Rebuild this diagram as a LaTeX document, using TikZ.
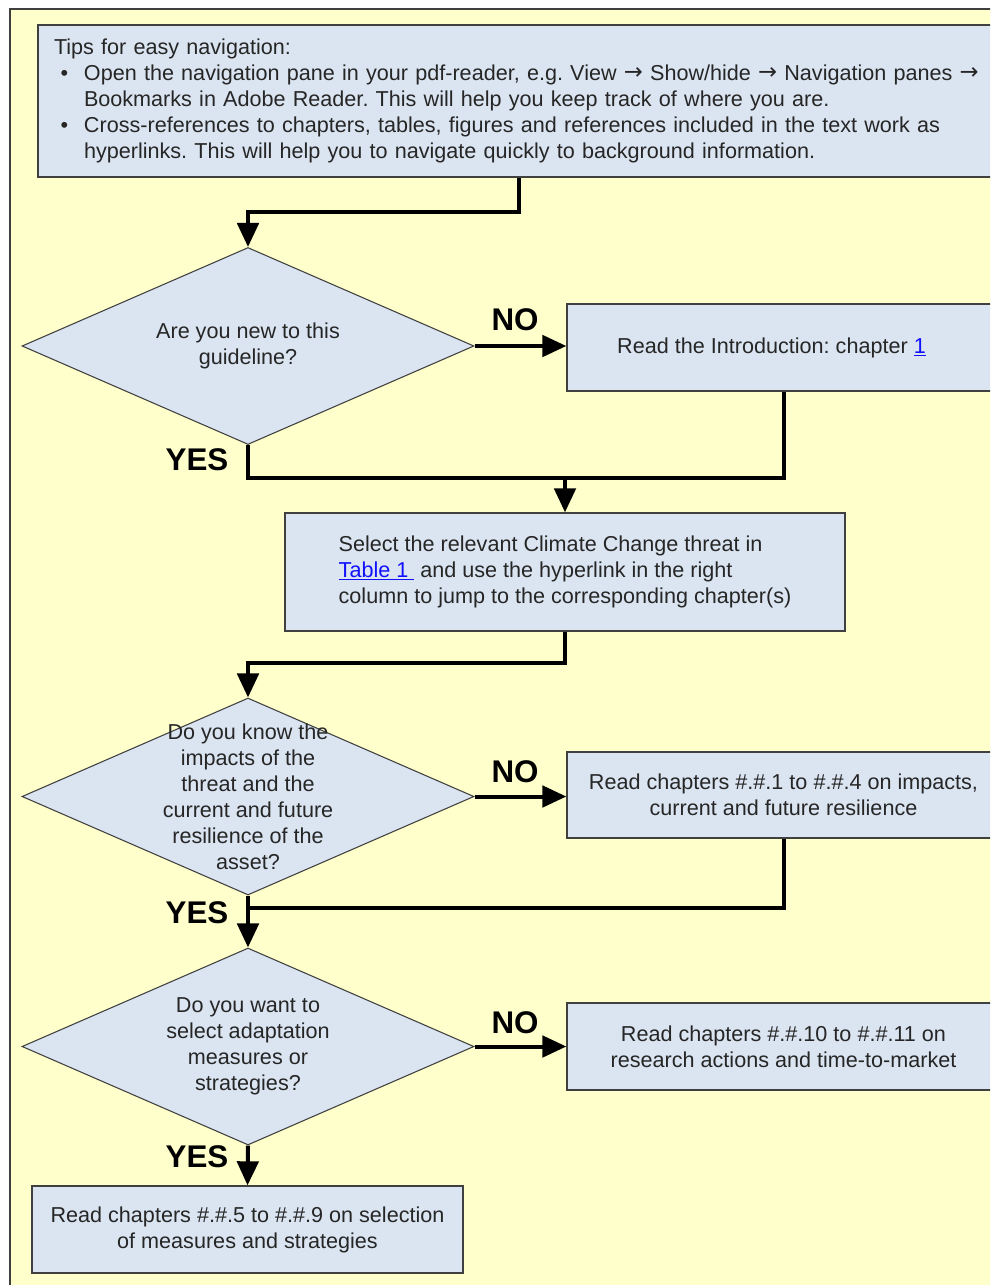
\documentclass[tikz,border=0pt]{standalone}
\usepackage{fontspec}
\setmainfont{Liberation Sans}
\newfontfamily\arrowfont{DejaVu Sans}
\usetikzlibrary{shapes.geometric,arrows.meta,calc}
\definecolor{bgyellow}{HTML}{FFFFCC}
\definecolor{boxblue}{HTML}{DBE5F1}
\definecolor{edgegray}{HTML}{404040}
\definecolor{txt}{HTML}{262626}
\definecolor{linkblue}{HTML}{1010FF}
\frenchspacing
\newcommand{\lnk}[1]{\textcolor{linkblue}{\underline{#1}}}
\newcommand{\rarr}{{\arrowfont\fontsize{17}{17}\selectfont\raisebox{0.5pt}{→}}}
\begin{document}
\begin{tikzpicture}[x=0.75pt,y=-0.75pt,
  every node/.style={font=\fontsize{16.2}{19.5}\selectfont, text=txt},
  box/.style={draw=edgegray, line width=1pt, fill=boxblue, inner sep=0pt, align=center},
  dia/.style={diamond, draw=edgegray, line width=0.8pt, fill=boxblue, inner sep=0pt,
              minimum width=339pt, minimum height=147.75pt},
  conn/.style={line width=3pt, draw=black},
  arr/.style={conn, -{Triangle[length=18pt,width=16pt]}},
  yesno/.style={font=\fontsize{23.5}{28}\selectfont\bfseries, text=black}]
\useasboundingbox (0,0) rectangle (990,1285);
\clip (0,0) rectangle (990,1285);
\fill[white] (0,0) rectangle (990,1285);
\path[draw=edgegray, fill=bgyellow, line width=1.2pt] (10,9) rectangle (1020,1310);

% top box
\node[box, minimum width=721.5pt, minimum height=114pt, align=left, text width=697.5pt] (t) at (519,101) {%
Tips for easy navigation:\\
\makebox[22.5pt][l]{\hspace{5pt}\textbullet}Open the navigation pane in your pdf-reader, e.g. View \rarr\ Show/hide \rarr\ Navigation panes \rarr\\
\hspace*{22.5pt}Bookmarks in Adobe Reader. This will help you keep track of where you are.\\
\makebox[22.5pt][l]{\hspace{5pt}\textbullet}Cross-references to chapters, tables, figures and references included in the text work as\\
\hspace*{22.5pt}hyperlinks. This will help you to navigate quickly to background information.};

% diamonds
\node[dia] (d1) at (248,346) {};
\node[align=center] (d1t) at (d1) {Are you new to this\\guideline?};
\node[dia] (d2) at (248,796.5) {};
\node[align=center] (d2t) at (d2) {Do you know the\\impacts of the\\threat and the\\current and future\\resilience of the\\asset?};
\node[dia] (d3) at (248,1046.5) {};
\node[align=center] (d3t) at (d3) {Do you want to\\select adaptation\\measures or\\strategies?};

% boxes
\node[box, minimum width=324.75pt, minimum height=65.25pt] (b1) at (783.5,347.5) {\hspace*{-18pt}Read the Introduction: chapter \lnk{1}};
\node[box, minimum width=420pt, minimum height=88.5pt, align=left] (b2) at (565,572) {%
Select the relevant Climate Change threat in\\
\lnk{Table 1\ }\ and use the hyperlink in the right\\
column to jump to the corresponding chapter(s)};
\node[box, minimum width=324.75pt, minimum height=64.5pt] (b3) at (783.5,795) {Read chapters \#.\#.1 to \#.\#.4 on impacts,\\current and future resilience};
\node[box, minimum width=324.75pt, minimum height=65.25pt] (b4) at (783.5,1046.5) {Read chapters \#.\#.10 to \#.\#.11 on\\research actions and time-to-market};
\node[box, minimum width=323.25pt, minimum height=65.25pt] (b5) at (247.5,1229.5) {Read chapters \#.\#.5 to \#.\#.9 on selection\\of measures and strategies};

% connectors
\coordinate (c1) at (519,212);
\draw[arr] (t.south) -- (c1) -| (d1.north);
\draw[arr] (d1.east) -- (d1.east -| b1.west);
\coordinate (c2) at (248,478);
\draw[conn] (d1.south) -- (c2) -| (b1.south);
\draw[arr] (b2.north |- c2) -- (b2.north);
\coordinate (c3) at (565,663);
\draw[arr] (b2.south) -- (c3) -| (d2.north);
\draw[arr] (d2.east) -- (d2.east -| b3.west);
\coordinate (c4) at (248,908);
\draw[conn] (b3.south) |- (c4);
\draw[arr] (d2.south) -- (d3.north);
\draw[arr] (d3.east) -- (d3.east -| b4.west);
\draw[arr] (d3.south) -- (b5.north);

% labels
\node[yesno] (no1) at (515,320) {NO};
\node[yesno] (no2) at (515,772) {NO};
\node[yesno] (no3) at (515,1023) {NO};
\node[yesno] (yes1) at (197,460) {YES};
\node[yesno] (yes2) at (197,913) {YES};
\node[yesno] (yes3) at (197,1157) {YES};
\end{tikzpicture}
\end{document}
